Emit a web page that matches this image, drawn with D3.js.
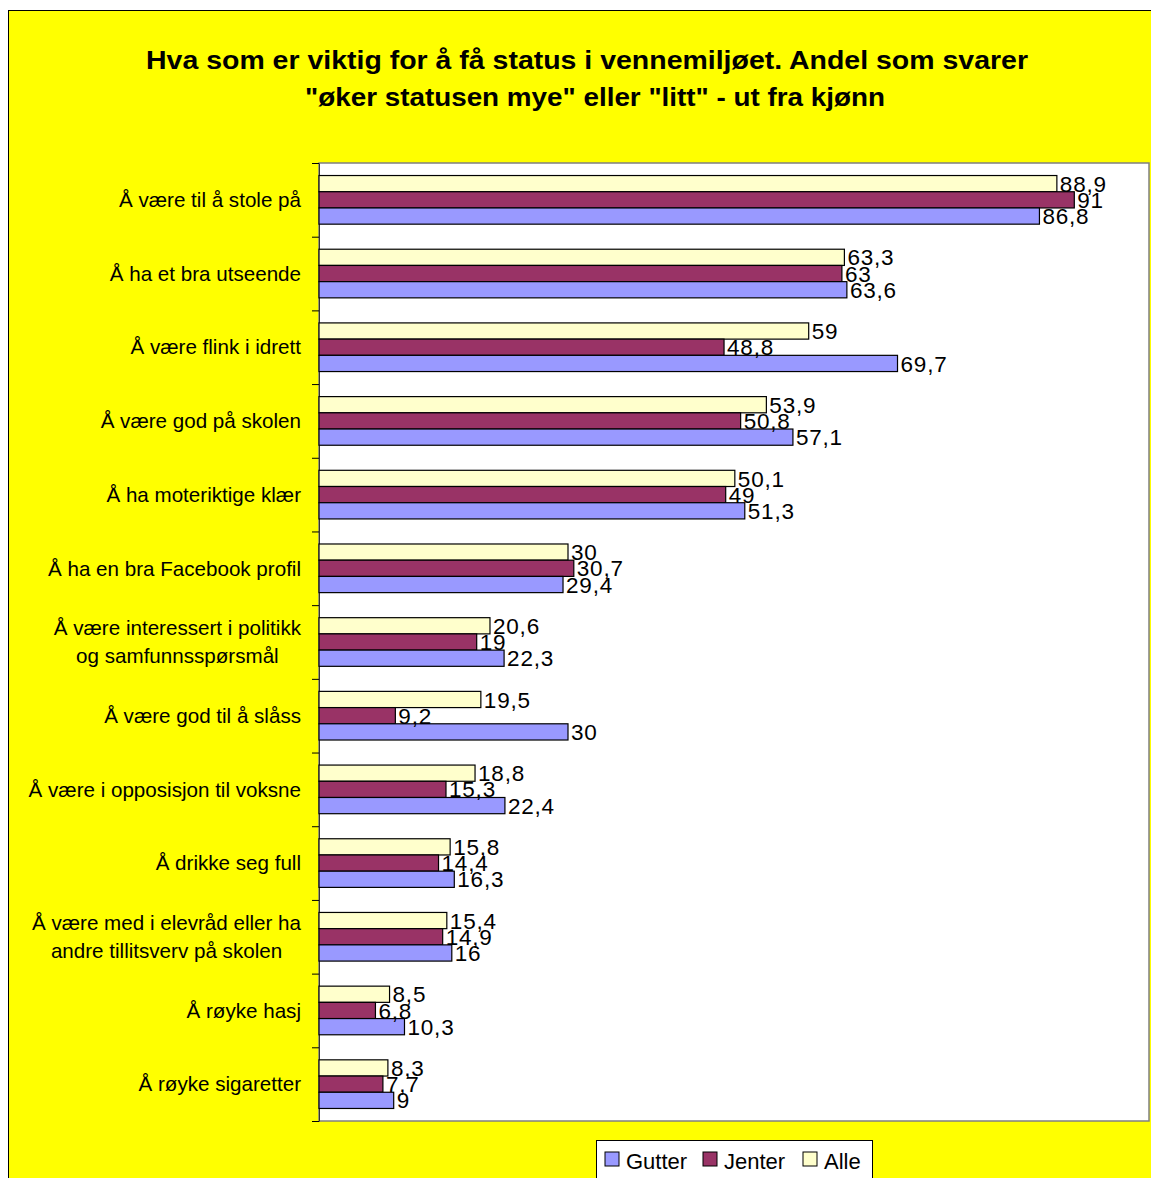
<!DOCTYPE html>
<html>
<head>
<meta charset="utf-8">
<script src="https://cdn.jsdelivr.net/npm/d3@7"></script>
<style>
  body { margin: 0; background: #fff; }
  svg { display: block; font-family: "Liberation Sans", Arial, sans-serif; }
</style>
</head>
<body>
<div id="chart"></div>
<script>
// Data
const categories = [
  ["Å være til å stole på"],
  ["Å ha et bra utseende"],
  ["Å være flink i idrett"],
  ["Å være god på skolen"],
  ["Å ha moteriktige klær"],
  ["Å ha en bra Facebook profil"],
  ["Å være interessert i politikk", "og samfunnsspørsmål"],
  ["Å være god til å slåss"],
  ["Å være i opposisjon til voksne"],
  ["Å drikke seg full"],
  ["Å være med i elevråd eller ha", "andre tillitsverv på skolen"],
  ["Å røyke hasj"],
  ["Å røyke sigaretter"]
];
const gutter = [86.8, 63.6, 69.7, 57.1, 51.3, 29.4, 22.3, 30, 22.4, 16.3, 16, 10.3, 9];
const jenter = [91, 63, 48.8, 50.8, 49, 30.7, 19, 9.2, 15.3, 14.4, 14.9, 6.8, 7.7];
const alle = [88.9, 63.3, 59, 53.9, 50.1, 30, 20.6, 19.5, 18.8, 15.8, 15.4, 8.5, 8.3];

const seriesNames = ["Gutter", "Jenter", "Alle"];
const seriesColors = ["#9999FF", "#993366", "#FFFFCC"];
const seriesValues = [gutter, jenter, alle];
// bars drawn top to bottom: Alle, Jenter, Gutter
const barOrder = [2, 1, 0];

const W = 1151, H = 1178;
const plot = { left: 319, top: 163, right: 1149, bottom: 1121 };

const svg = d3.select("#chart").append("svg")
  .attr("width", W)
  .attr("height", H);

// chart area background
svg.append("rect")
  .attr("x", 8.5).attr("y", 10.5)
  .attr("width", 1180).attr("height", 1200)
  .attr("fill", "#FFFF00")
  .attr("stroke", "#000")
  .attr("stroke-width", 1);

// title (the original font runs wider than Arial, so stretch to its width)
svg.append("text")
  .attr("x", 146).attr("y", 69)
  .attr("font-size", 26).attr("font-weight", "bold")
  .attr("textLength", 882).attr("lengthAdjust", "spacingAndGlyphs")
  .text("Hva som er viktig for å få status i vennemiljøet. Andel som svarer");
svg.append("text")
  .attr("x", 305).attr("y", 106)
  .attr("font-size", 26).attr("font-weight", "bold")
  .attr("textLength", 580).attr("lengthAdjust", "spacingAndGlyphs")
  .text("\"øker statusen mye\" eller \"litt\" - ut fra kjønn");

// Scales
const x = d3.scaleLinear()
  .domain([0, 100])
  .range([plot.left, plot.right]);

const y = d3.scaleBand()
  .domain(d3.range(categories.length))
  .range([plot.top, plot.bottom])
  .paddingInner(0.34)
  .paddingOuter(0.17);

const yInner = d3.scaleBand()
  .domain(barOrder)
  .range([0, y.bandwidth()]);

const yBound = d3.scaleLinear()
  .domain([0, categories.length])
  .range([plot.top, plot.bottom]);

// plot area
svg.append("rect")
  .attr("x", plot.left).attr("y", plot.top)
  .attr("width", plot.right - plot.left)
  .attr("height", plot.bottom - plot.top)
  .attr("fill", "#fff")
  .attr("stroke", "#808080")
  .attr("stroke-width", 1.5);

// left axis with ticks at category boundaries
const yAxis = svg.append("g")
  .attr("transform", `translate(${plot.left},0)`)
  .call(d3.axisLeft(yBound)
    .tickValues(d3.range(categories.length + 1))
    .tickFormat("")
    .tickSize(7)
    .tickSizeOuter(0));
yAxis.select(".domain").attr("stroke", "#333");
yAxis.selectAll(".tick line").attr("stroke", "#000");

// category labels
const catG = svg.append("g").attr("font-size", 20.6).attr("fill", "#000");
categories.forEach((lines, i) => {
  const cy = y(i) + y.bandwidth() / 2;
  const lh = 28;
  const g = catG.append("g");
  const texts = lines.map((ln, k) => g.append("text")
    .attr("y", cy + (k - (lines.length - 1) / 2) * lh)
    .attr("dy", "0.35em")
    .text(ln));
  if (lines.length === 1) {
    texts[0].attr("x", 301).attr("text-anchor", "end");
  } else {
    const maxW = d3.max(texts, t => t.node().getComputedTextLength());
    texts.forEach(t => t.attr("x", 301 - maxW / 2).attr("text-anchor", "middle"));
  }
});

// bars
const barG = svg.append("g");
barOrder.forEach(s => {
  const vals = seriesValues[s];
  barG.selectAll(null)
    .data(vals)
    .enter().append("rect")
    .attr("x", x(0))
    .attr("y", (d, i) => y(i) + yInner(s))
    .attr("width", d => x(d) - x(0))
    .attr("height", yInner.bandwidth())
    .attr("fill", seriesColors[s])
    .attr("stroke", "#000")
    .attr("stroke-width", 1.2);
});

// data labels
const labG = svg.append("g")
  .attr("font-size", 22.5)
  .attr("letter-spacing", 0.8)
  .attr("fill", "#000");
barOrder.forEach(s => {
  const vals = seriesValues[s];
  labG.selectAll(null)
    .data(vals)
    .enter().append("text")
    .attr("x", d => x(d) + 3)
    .attr("y", (d, i) => y(i) + yInner(s) + yInner.bandwidth() / 2)
    .attr("dy", "0.36em")
    .text(d => String(d).replace(".", ","));
});

// legend
const leg = svg.append("g");
leg.append("rect")
  .attr("x", 596.5).attr("y", 1140.5)
  .attr("width", 276).attr("height", 50)
  .attr("fill", "#fff")
  .attr("stroke", "#000")
  .attr("stroke-width", 1);
const legX = [605, 703, 803];
seriesNames.forEach((name, i) => {
  leg.append("rect")
    .attr("x", legX[i]).attr("y", 1152)
    .attr("width", 14).attr("height", 14)
    .attr("fill", seriesColors[i])
    .attr("stroke", "#000")
    .attr("stroke-width", 1);
  leg.append("text")
    .attr("x", legX[i] + 21).attr("y", 1169)
    .attr("font-size", 22)
    .text(name);
});
</script>
</body>
</html>
